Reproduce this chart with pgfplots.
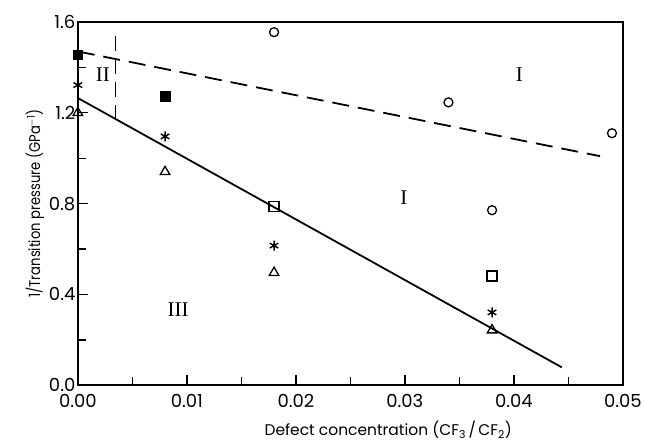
\documentclass[border=0pt]{standalone}
\usepackage{pgfplots}
\pgfplotsset{compat=1.18}
\usepackage{fontspec}
\setmainfont{Poppins}
\newfontfamily\romanfont{Liberation Serif}

\begin{document}
\begin{tikzpicture}
\begin{axis}[
  at={(0,0)}, anchor=south west,
  scale only axis, width=546pt, height=364pt,
  xmin=0, xmax=0.05, ymin=0, ymax=1.6,
  axis line style={line width=1.6pt},
  xtick={0,0.01,0.02,0.03,0.04,0.05},
  minor xtick={0.005,0.015,0.025,0.035,0.045},
  ytick={0,0.4,0.8,1.2,1.6},
  minor ytick={0.2,0.6,1.0,1.4},
  scaled x ticks=false, scaled y ticks=false,
  xtick pos=bottom, ytick pos=left,
  tick align=inside,
  major tick length=10pt, minor tick length=8pt,
  every tick/.style={line width=1.4pt, black},
  /pgf/number format/assume math mode=true,
  xticklabel style={yshift=-5pt, /pgf/number format/fixed, /pgf/number format/fixed zerofill, /pgf/number format/precision=2},
  yticklabel style={xshift=1pt, /pgf/number format/fixed, /pgf/number format/fixed zerofill, /pgf/number format/precision=1},
  tick label style={font=\fontsize{18}{20}\selectfont},
  label style={font=\fontsize{15.5}{18}\selectfont},
  xlabel={Defect concentration (CF\textsubscript{3}\,/\,CF\textsubscript{2})},
  ylabel={\scalebox{0.85}[1]{1/Transition pressure (GPa\textsuperscript{$-$1})}},
  xlabel style={yshift=-7pt, xshift=38pt},
  ylabel style={yshift=-2pt},
  clip=false,
]
% phase boundaries
\addplot[line width=1.8pt] coordinates {(0,1.265) (0.0444,0.079)};
\addplot[line width=1.8pt, dash pattern=on 17pt off 9pt] coordinates {(0,1.47) (0.0479,1.009)};
\addplot[line width=1.6pt, dash pattern=on 15pt off 8pt] coordinates {(0.00345,1.17) (0.00345,1.56)};

% open circles
\addplot[only marks, mark=o, mark size=4.5pt, line width=1.3pt] coordinates {
  (0.018,1.555) (0.034,1.246) (0.049,1.110) (0.038,0.771)};
% filled squares
\addplot[only marks, mark=square*, mark size=4.8pt, black] coordinates {
  (0,1.455) (0.008,1.274)};
% asterisks
\addplot[only marks, mark=asterisk, mark size=5pt, line width=1.4pt] coordinates {
  (0,1.322) (0.008,1.096) (0.018,0.615) (0.038,0.321)};
% open triangles
\addplot[only marks, mark=triangle, mark size=5.5pt, line width=1.3pt] coordinates {
  (0,1.20) (0.008,0.94) (0.018,0.496) (0.038,0.243)};
% open squares
\addplot[only marks, mark=square, mark size=5pt, line width=1.3pt] coordinates {
  (0.018,0.786) (0.038,0.481)};

% phase labels
\node[font=\romanfont\fontsize{21}{24}\selectfont] at (axis cs:0.0023,1.368) {II};
\node[font=\romanfont\fontsize{21}{24}\selectfont] at (axis cs:0.0405,1.367) {I};
\node[font=\romanfont\fontsize{21}{24}\selectfont] at (axis cs:0.0299,0.826) {I};
\node[font=\romanfont\fontsize{21}{24}\selectfont] at (axis cs:0.0092,0.331) {III};
\end{axis}
\path (-78pt,-57pt) rectangle (567pt,386pt);
\end{tikzpicture}
\end{document}
